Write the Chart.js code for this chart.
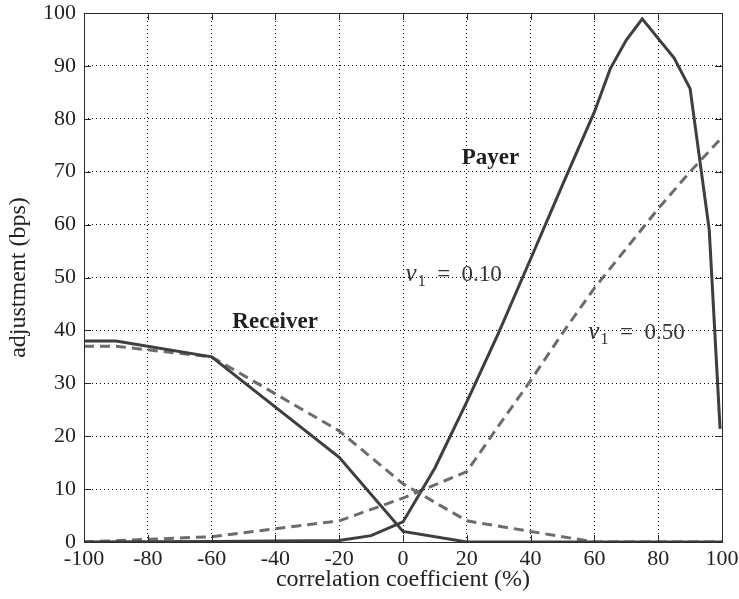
<!DOCTYPE html>
<html>
<head>
<meta charset="utf-8">
<script src="https://cdn.jsdelivr.net/npm/chart.js@4.4.1/dist/chart.umd.min.js"></script>
<style>
  html, body { margin: 0; padding: 0; background: #fff; }
  #wrap { width: 739px; height: 599px; }
</style>
</head>
<body>
<div id="wrap"><canvas id="adjChart" width="739" height="599"></canvas></div>
<script>
// Receiver curves (correlation in %, adjustment in bps)
const receiverX = [-100, -90, -60, -20, 0, 20, 40, 60, 80, 100];
const receiverLow = [38, 38, 35, 16, 2, 0, 0, 0, 0, 0]; // nu1 = 0.10
const receiverHigh = [37, 37, 35, 21, 11, 4, 2, 0, 0, 0]; // nu1 = 0.50

// Payer curves
const payerLowX = [-100, -60, -20, -10, 0, 10, 20, 30, 40, 50, 60, 65, 70, 75, 85, 90, 96, 99.4];
const payerLow = [0, 0.1, 0.3, 1.2, 3.8, 14, 26.5, 39.6, 53.5, 67.5, 81.3, 89.5, 94.9, 98.9, 91.5, 85.7, 59, 21.4];
const payerHighX = [-100, -60, -20, 0, 20, 30, 40, 50, 60, 70, 80, 90, 100];
const payerHigh = [0, 1, 4, 8.3, 13.3, 22, 30.5, 39.5, 48, 55.5, 63, 70, 76.5];

// Axis ticks
const xTicks = [-100, -80, -60, -40, -20, 0, 20, 40, 60, 80, 100];
const yTicks = [0, 10, 20, 30, 40, 50, 60, 70, 80, 90, 100];

// Text in the plot, anchored in data coordinates (x, y of baseline)
const curveNames = ["Payer", "Receiver"];
const curveNameX = [27.4, -40.1];
const curveNameY = [71.5, 40.5];
const nuValues = ["0.10", "0.50"];
const nuX = [0.8, 58.1];
const nuY = [49.3, 38.4];

const solidColor = "#3e3e3e";
const dashColor = "#6c6c6c";
const serif = "'Liberation Serif', 'Times New Roman', serif";

Chart.defaults.font.family = serif;
Chart.defaults.color = "#222";

function toPoints(xs, ys) {
  return xs.map((x, i) => ({ x: x, y: ys[i] }));
}

// box round the plot with inward tick marks on every side
const framePlugin = {
  id: "frame",
  afterDatasetsDraw(chart) {
    const { ctx, chartArea: a, scales } = chart;
    const len = 7;
    ctx.save();
    ctx.strokeStyle = "#2a2a2a";
    ctx.lineWidth = 1;
    ctx.beginPath();
    xTicks.forEach((v) => {
      const px = Math.round(scales.x.getPixelForValue(v)) + 0.5;
      ctx.moveTo(px, a.bottom);
      ctx.lineTo(px, a.bottom - len);
      ctx.moveTo(px, a.top);
      ctx.lineTo(px, a.top + len);
    });
    yTicks.forEach((v) => {
      const py = Math.round(scales.y.getPixelForValue(v)) + 0.5;
      ctx.moveTo(a.left, py);
      ctx.lineTo(a.left + len, py);
      ctx.moveTo(a.right, py);
      ctx.lineTo(a.right - len, py);
    });
    ctx.stroke();
    ctx.strokeRect(
      Math.round(a.left) + 0.5,
      Math.round(a.top) + 0.5,
      Math.round(a.right - a.left),
      Math.round(a.bottom - a.top)
    );
    ctx.restore();
  },
};

const textPlugin = {
  id: "curveText",
  afterDatasetsDraw(chart) {
    const { ctx, scales } = chart;
    ctx.save();
    ctx.textBaseline = "alphabetic";
    ctx.fillStyle = "#1e1e1e";
    ctx.textAlign = "center";
    ctx.font = "bold 23px " + serif;
    curveNames.forEach((name, i) => {
      ctx.fillText(
        name,
        scales.x.getPixelForValue(curveNameX[i]),
        scales.y.getPixelForValue(curveNameY[i])
      );
    });

    ctx.textAlign = "left";
    ctx.fillStyle = "#333";
    nuValues.forEach((val, i) => {
      let px = scales.x.getPixelForValue(nuX[i]);
      const py = scales.y.getPixelForValue(nuY[i]);
      ctx.font = "italic 25px " + serif;
      ctx.fillText("ν", px, py);
      px += ctx.measureText("ν").width + 1;
      ctx.font = "16px " + serif;
      ctx.fillText("1", px, py + 5);
      px += ctx.measureText("1").width;
      ctx.font = "23px " + serif;
      ctx.fillText("  =  " + val, px, py);
    });
    ctx.restore();
  },
};

const ctx = document.getElementById("adjChart").getContext("2d");

new Chart(ctx, {
  type: "line",
  data: {
    datasets: [
      {
        label: "Receiver 0.10",
        data: toPoints(receiverX, receiverLow),
        borderColor: solidColor,
        borderWidth: 3,
      },
      {
        label: "Receiver 0.50",
        data: toPoints(receiverX, receiverHigh),
        borderColor: dashColor,
        borderWidth: 3,
        borderDash: [10, 6],
      },
      {
        label: "Payer 0.10",
        data: toPoints(payerLowX, payerLow),
        borderColor: solidColor,
        borderWidth: 3,
      },
      {
        label: "Payer 0.50",
        data: toPoints(payerHighX, payerHigh),
        borderColor: dashColor,
        borderWidth: 3,
        borderDash: [10, 6],
      },
    ],
  },
  options: {
    responsive: false,
    animation: false,
    layout: { padding: { top: 13, right: 17, left: 0, bottom: 0 } },
    plugins: {
      legend: { display: false },
      tooltip: { enabled: false },
    },
    elements: {
      point: { radius: 0 },
      line: { tension: 0, fill: false },
    },
    scales: {
      x: {
        type: "linear",
        min: -100,
        max: 100,
        afterBuildTicks: (s) => {
          s.ticks = xTicks.map((v) => ({ value: v }));
        },
        afterFit: (s) => {
          s.height = 57;
          s.paddingLeft = 0;
          s.paddingRight = 0;
        },
        grid: { color: "#000", lineWidth: 1, drawTicks: false },
        border: { display: false, dash: [1, 3] },
        ticks: { padding: 4, font: { size: 22 }, color: "#222", maxRotation: 0 },
        title: {
          display: true,
          text: "correlation coefficient (%)",
          font: { size: 24 },
          color: "#222",
          padding: { top: 0, bottom: 5 },
        },
      },
      y: {
        type: "linear",
        min: 0,
        max: 100,
        afterBuildTicks: (s) => {
          s.ticks = yTicks.map((v) => ({ value: v }));
        },
        afterFit: (s) => {
          s.width = 84;
          s.paddingTop = 0;
          s.paddingBottom = 0;
        },
        grid: { color: "#000", lineWidth: 1, drawTicks: false },
        border: { display: false, dash: [1, 3] },
        ticks: { padding: 8, font: { size: 22 }, color: "#222" },
        title: {
          display: true,
          text: "adjustment (bps)",
          font: { size: 24 },
          color: "#222",
          padding: { top: 4, bottom: 0 },
        },
      },
    },
  },
  plugins: [framePlugin, textPlugin],
});
</script>
</body>
</html>
